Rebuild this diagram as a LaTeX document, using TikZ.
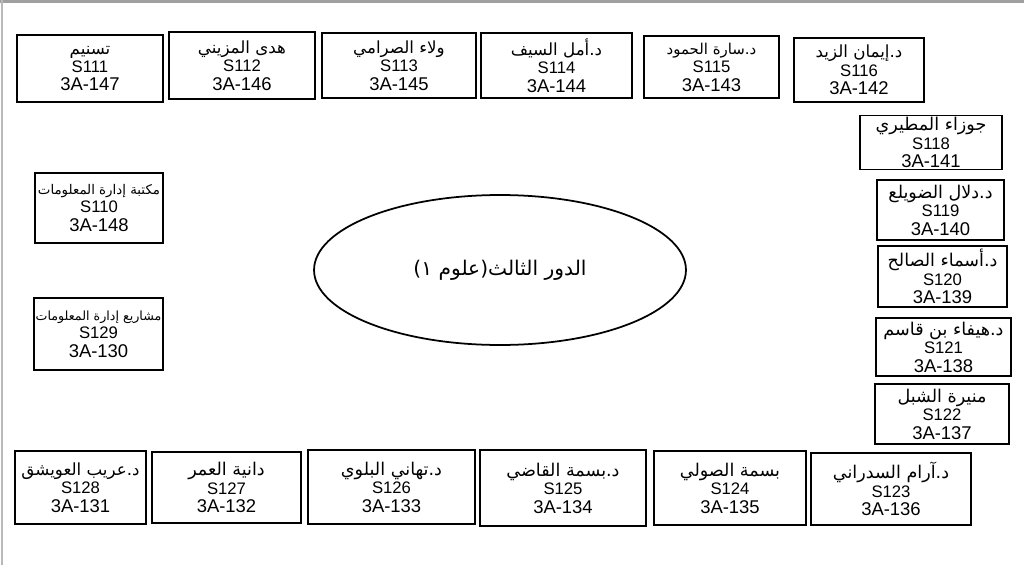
\documentclass[tikz,border=0pt]{standalone}
\usepackage{fontspec}
\setmainfont{Liberation Sans}
\newfontfamily\arabicfont[Script=Arabic]{DejaVu Sans}
\TeXXeTstate=1
\usetikzlibrary{shapes.geometric}
\newcommand\arname[2][9.5]{{\arabicfont\fontsize{#1}{10.5}\selectfont\beginR #2\endR}}
\newcommand\roomtext[4][9.5]{\arname[#1]{#2}\\{\fontsize{9.5}{10}\selectfont #3}\\{\fontsize{10.5}{11}\selectfont #4}}

\begin{document}
\begin{tikzpicture}[
  x=0.02cm, y=-0.02cm,
  room/.style={draw, line width=1pt, align=center, inner sep=1pt, font=\fontsize{10}{10.5}\selectfont},
  floorshape/.style={draw, ellipse, line width=1pt, inner sep=0pt, minimum width=7.44cm, minimum height=3cm}
]
\useasboundingbox (0,0) rectangle (1024,565);
\draw[gray!75, line width=2pt] (0,1) -- (1024,1);
\draw[gray!55, line width=0.8pt] (2,0) -- (2,565);

\node[room, minimum width=2.92cm, minimum height=1.34cm] (s111) at (90,68.5) {\roomtext{تسنيم}{S111}{3A-147}};
\node[room, minimum width=2.92cm, minimum height=1.34cm] (s112) at (242,65.5) {\roomtext{هدى المزيني}{S112}{3A-146}};
\node[room, minimum width=3.08cm, minimum height=1.30cm] (s113) at (399,65.5) {\roomtext{ولاء الصرامي}{S113}{3A-145}};
\node[room, minimum width=3.02cm, minimum height=1.30cm] (s114) at (556.5,65.5) {\roomtext{د.أمل السيف}{S114}{3A-144}};
\node[room, minimum width=2.70cm, minimum height=1.24cm] (s115) at (711.5,67) {\roomtext[8.5]{د.سارة الحمود}{S115}{3A-143}};
\node[room, minimum width=2.60cm, minimum height=1.28cm] (s116) at (859,70) {\roomtext{د.إيمان الزيد}{S116}{3A-142}};

\node[room, minimum width=2.84cm, minimum height=1.06cm] (s118) at (931,142.5) {\roomtext[10]{جوزاء المطيري}{S118}{3A-141}};
\node[room, minimum width=2.54cm, minimum height=1.20cm] (s119) at (940.5,210) {\roomtext[10]{د.دلال الضويلع}{S119}{3A-140}};
\node[room, minimum width=2.58cm, minimum height=1.22cm] (s120) at (942.5,276.5) {\roomtext[10]{د.أسماء الصالح}{S120}{3A-139}};
\node[room, minimum width=2.70cm, minimum height=1.16cm] (s121) at (943.5,347) {\roomtext[10]{د.هيفاء بن قاسم}{S121}{3A-138}};
\node[room, minimum width=2.68cm, minimum height=1.20cm] (s122) at (942,414) {\roomtext[10]{منيرة الشبل}{S122}{3A-137}};

\node[room, minimum width=3.20cm, minimum height=1.44cm] (s123) at (891,489) {\roomtext[10]{د.آرام السدراني}{S123}{3A-136}};
\node[room, minimum width=3.04cm, minimum height=1.48cm] (s124) at (730,488) {\roomtext[10]{بسمة الصولي}{S124}{3A-135}};
\node[room, minimum width=3.32cm, minimum height=1.52cm] (s125) at (563,488) {\roomtext[10]{د.بسمة القاضي}{S125}{3A-134}};
\node[room, minimum width=3.34cm, minimum height=1.48cm] (s126) at (391.5,487) {\roomtext[10]{د.تهاني البلوي}{S126}{3A-133}};
\node[room, minimum width=2.98cm, minimum height=1.42cm] (s127) at (226.5,487.5) {\roomtext[10]{دانية العمر}{S127}{3A-132}};
\node[room, minimum width=2.62cm, minimum height=1.46cm] (s128) at (80.5,487.5) {\roomtext[9.5]{د.عريب العويشق}{S128}{3A-131}};

\node[room, minimum width=2.56cm, minimum height=1.40cm] (s110) at (99,208) {\roomtext[7.6]{مكتبة إدارة المعلومات}{S110}{3A-148}};
\node[room, minimum width=2.58cm, minimum height=1.44cm] (s129) at (98.5,334) {\roomtext[7.2]{مشاريع إدارة المعلومات}{S129}{3A-130}};

\node[floorshape] (floor) at (500,270) {{\arabicfont\fontsize{11.5}{13}\selectfont\beginR الدور الثالث(علوم ١)\endR}};
\end{tikzpicture}
\end{document}
